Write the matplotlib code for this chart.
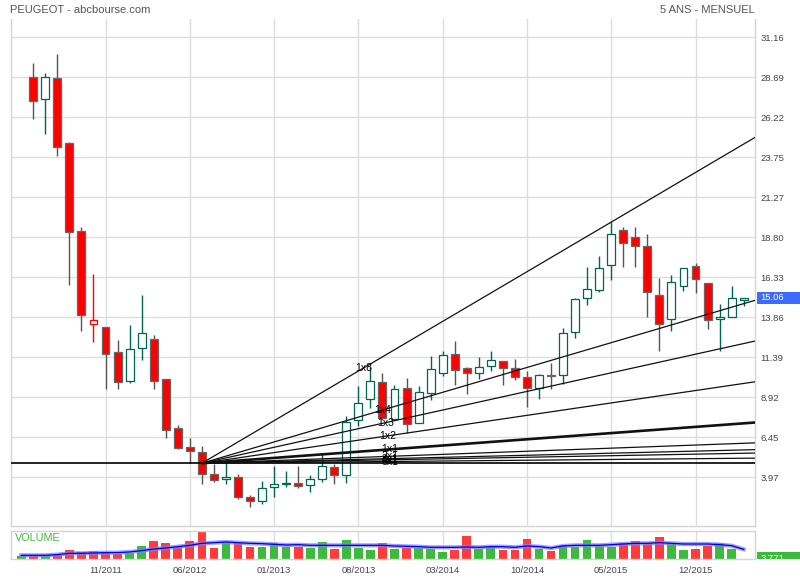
import matplotlib
matplotlib.use('Agg')
import matplotlib.pyplot as plt
import matplotlib.transforms as mtransforms
from matplotlib.patches import Rectangle
import numpy as np

plt.rcParams['font.family'] = ['Liberation Sans', 'DejaVu Sans']

# monthly candles 05/2011 .. 04/2016 (index 0..59)
opens = [28.69, 27.33, 28.63, 24.61, 19.19, 13.69, 13.24, 11.70, 9.90, 11.94,
         12.50, 10.05, 7.00, 5.82, 5.52, 4.16, 3.85, 3.97, 2.73, 2.49,
         3.35, 3.54, 3.64, 3.48, 3.85, 4.59, 4.09, 7.49, 8.79, 9.88,
         7.57, 9.47, 7.33, 9.16, 10.40, 11.57, 10.71, 10.40, 10.83, 11.14,
         10.71, 10.15, 9.47, 10.28, 10.27, 12.93, 15.03, 15.53, 17.07, 19.24,
         18.80, 18.25, 15.22, 13.74, 15.78, 17.01, 15.96, 13.74, 13.86, 14.91]
highs = [29.58, 28.96, 30.13, 24.70, 19.44, 16.54, 13.24, 12.46, 13.38, 15.24,
         12.77, 10.05, 7.18, 6.38, 5.90, 4.77, 4.85, 4.16, 2.88, 3.74,
         4.69, 4.36, 4.69, 4.09, 5.39, 4.77, 7.74, 9.59, 10.79, 10.44,
         9.66, 10.09, 9.63, 11.45, 11.76, 12.38, 10.77, 11.39, 11.76, 11.14,
         11.26, 10.52, 10.34, 11.02, 13.18, 15.03, 16.95, 17.65, 19.73, 19.42,
         19.42, 18.99, 16.27, 16.46, 16.89, 17.20, 15.96, 14.66, 15.78, 15.06]
lows = [26.14, 25.17, 23.85, 15.86, 13.00, 12.35, 9.45, 9.45, 9.82, 11.20,
        9.41, 6.42, 5.70, 4.87, 3.54, 3.70, 3.56, 2.61, 2.15, 2.30,
        2.77, 3.35, 3.29, 3.04, 3.66, 3.54, 3.60, 7.12, 8.23, 7.53,
        7.50, 6.73, 7.30, 8.73, 10.21, 9.66, 9.10, 10.03, 10.52, 9.66,
        9.96, 8.30, 8.79, 9.41, 9.72, 12.56, 14.60, 15.44, 16.18, 16.99,
        16.99, 13.90, 11.76, 13.00, 15.47, 15.34, 13.12, 11.76, 13.86, 14.54]
closes = [27.21, 28.69, 24.37, 19.11, 13.98, 13.43, 11.61, 9.88, 11.88, 12.87,
          9.90, 6.875, 5.76, 5.58, 4.16, 3.78, 3.97, 2.73, 2.49, 3.29,
          3.54, 3.64, 3.45, 3.85, 4.65, 4.09, 7.37, 8.54, 9.94, 7.62,
          9.45, 7.26, 9.22, 10.65, 11.51, 10.58, 10.40, 10.77, 11.20, 10.71,
          10.15, 9.47, 10.27, 10.24, 12.87, 14.97, 15.59, 16.89, 18.99, 18.43,
          18.25, 15.41, 13.43, 16.02, 16.89, 16.21, 13.67, 13.86, 15.03, 15.06]
hollow_red = [5]

# volume (thousands), index -1 .. 59, and its moving average
vol_k = [19.0, 22.8, 22.8, 26.6, 53.2, 41.8, 47.5, 41.8, 28.5, 38.0,
         74.1, 104.5, 91.2, 72.2, 104.5, 155.8, 64.6, 98.8, 91.2, 70.3,
         70.3, 91.2, 70.3, 70.3, 66.5, 98.8, 58.9, 110.2, 66.5, 55.1,
         93.1, 57.0, 66.5, 66.5, 57.0, 39.9, 53.2, 131.1, 60.8, 72.2,
         55.1, 55.1, 114.0, 58.9, 49.4, 79.8, 72.2, 112.1, 76.0, 70.3,
         91.2, 104.5, 91.2, 127.3, 91.2, 55.1, 58.9, 74.1, 91.2, 60.8, 3.771]
ma_k = [22.8, 22.8, 22.8, 26.6, 34.2, 34.2, 36.1, 38.0, 38.0, 41.8,
        49.4, 58.9, 64.6, 72.2, 79.8, 91.2, 95.0, 98.8, 95.0, 91.2,
        89.3, 85.5, 81.7, 83.6, 79.8, 79.8, 79.8, 79.8, 79.8, 79.8,
        79.8, 76.0, 74.1, 72.2, 68.4, 68.4, 68.4, 70.3, 68.4, 72.2,
        72.2, 68.4, 76.0, 72.2, 64.6, 76.0, 79.8, 79.8, 79.8, 83.6,
        87.4, 91.2, 91.2, 95.0, 91.2, 87.4, 87.4, 87.4, 83.6, 77.9, 57.0]

price_ticks = [3.97, 6.45, 8.92, 11.39, 13.86, 16.33, 18.80, 21.27, 23.75, 26.22, 28.69, 31.16]
month_ticks = [6, 13, 20, 27, 34, 41, 48, 55]
month_labels = ['11/2011', '06/2012', '01/2013', '08/2013', '03/2014', '10/2014', '05/2015', '12/2015']

# gann fan
fan_x, fan_y = 14, 4.84
fan_unit = 0.0548   # 1x1 slope, price per month
fan_ratios = [8, 4, 3, 2, 1, 1/2, 1/3, 1/4, 1/8]
fan_labels = ['1x8', '1x4', '1x3', '1x2', '1x1', '2x1', '3x1', '4x1', '8x1']

RED = '#ff0000'
GREEN_C = '#00664d'
VRED = '#ff3b3b'
VGREEN = '#3dba3d'
GRID = '#dddddd'

fig = plt.figure(figsize=(8, 5.8), dpi=100)
ax = fig.add_axes([11/800, 54/580, 744/800, 507/580])
axv = fig.add_axes([11/800, 20.7/580, 744/800, 28.6/580])

ax.set_xlim(-1.85, 59.94)
ax.set_ylim(0.96, 32.30)
axv.set_xlim(-1.85, 59.94)
axv.set_ylim(0, 163.4)

for a in (ax, axv):
    a.set_xticks(month_ticks)
    a.grid(axis='x', color=GRID, lw=1, zorder=0)
    for s in a.spines.values():
        s.set_color('#d4d4d4')
        s.set_linewidth(1)
ax.spines['top'].set_visible(False)
ax.set_yticks(price_ticks)
ax.set_yticklabels(['%.2f' % v for v in price_ticks])
ax.grid(axis='y', color=GRID, lw=1, zorder=0)
ax.yaxis.tick_right()
ax.tick_params(axis='y', length=0, pad=4, labelsize=6.8, colors='#444444')
ax.tick_params(axis='x', length=0, labelbottom=False)
axv.set_yticks([])
axv.set_xticklabels(month_labels)
axv.tick_params(axis='x', length=0, pad=4.5, labelsize=6.8, colors='#444444')

# candles
w = 0.66
for i in range(len(opens)):
    o, h, l, c = opens[i], highs[i], lows[i], closes[i]
    if i in hollow_red:
        fc, ec, wc = 'white', RED, RED
    elif c >= o:
        fc, ec, wc = 'white', GREEN_C, GREEN_C
    else:
        fc, ec, wc = RED, '#666666', '#555555'
    ax.vlines(i, l, h, color=wc, lw=1, zorder=2)
    bot = min(o, c)
    ht = max(abs(c - o), 0.04)
    ax.add_patch(Rectangle((i - w/2, bot), w, ht, facecolor=fc, edgecolor=ec, lw=0.9, zorder=3))

# fan lines
xmax = ax.get_xlim()[1]
ax.axhline(fan_y, color='black', lw=1.2, zorder=4)
for r, lab in zip(fan_ratios, fan_labels):
    s = fan_unit * r
    ax.plot([fan_x, xmax], [fan_y, fan_y + s * (xmax - fan_x)], color='#111111',
            lw=1.9 if r == 1 else 0.9, zorder=4, solid_capstyle='butt')
    p0 = ax.transData.transform((fan_x, fan_y))
    p1 = ax.transData.transform((fan_x + 10, fan_y + 10 * s))
    d = (p1 - p0) / np.hypot(*(p1 - p0))
    lx, ly = ax.transData.inverted().transform(p0 + 188 * d)
    ax.text(lx, ly, lab, fontsize=7.5, ha='center', va='center', color='black', zorder=5)

# last price tag
trans = mtransforms.blended_transform_factory(ax.transAxes, ax.transData)
ax.add_patch(Rectangle((1.0024, closes[-1] - 0.39), 0.06, 0.78, transform=trans,
                       facecolor='#3d6bff', edgecolor='none', clip_on=False, zorder=6))
ax.text(1.0077, closes[-1], '%.2f' % closes[-1], transform=trans, color='white',
        fontsize=6.8, va='center', ha='left', clip_on=False, zorder=7)

# volume
vx = np.arange(-1, len(opens))
vcol = [VGREEN]
for i in range(len(opens)):
    vcol.append(VRED if (closes[i] < opens[i] or i in hollow_red) else VGREEN)
axv.bar(vx, vol_k, width=0.72, color=vcol, zorder=2)
axv.plot(vx, ma_k, color='#7f7fff', lw=3, alpha=0.75, zorder=3)
axv.plot(vx, ma_k, color='#0000dd', lw=0.9, zorder=4)
axv.text(0.0054, 0.745, 'VOLUME', transform=axv.transAxes, color='#44bb44',
         fontsize=7.8, va='center', ha='left')

axl = fig.add_axes([756.7/800, 20.7/580, 43.3/800, 28.6/580])
axl.set_xlim(0, 1)
axl.set_ylim(axv.get_ylim())
axl.axis('off')
hh = 12.6 / 28.6 * 163.4
axl.add_patch(Rectangle((0, vol_k[-1] - hh/2), 1, hh, facecolor=VGREEN, edgecolor='none', clip_on=True))
axl.text(0.09, vol_k[-1], '{:,.0f}'.format(vol_k[-1] * 1000), color='white', fontsize=6.8,
         va='center', ha='left', clip_on=True)

fig.text(10/800, 1 - 10/580, 'PEUGEOT - abcbourse.com', fontsize=8, color='#555555', va='center', ha='left')
fig.text(755/800, 1 - 10/580, '5 ANS - MENSUEL', fontsize=8, color='#555555', va='center', ha='right')

fig.savefig('out.png', dpi=100)
